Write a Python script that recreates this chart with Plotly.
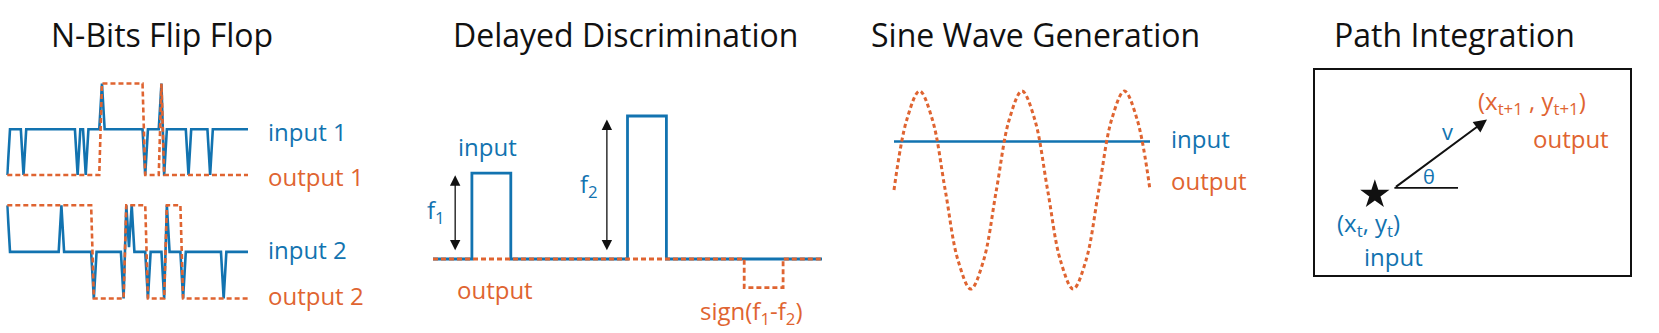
import plotly.graph_objects as go

W, H = 1659, 333
BLUE = "#1273B0"
ORANGE = "#DF6431"
BLACK = "#111111"
FONT = "Open Sans"

# ---------------- data ----------------
# N-Bits Flip Flop (time steps 0..89)
steps = list(range(90))
ff_in1 = [-1, 0, 0, 0, 0, 0, -1, 0, 0, 0,
          0, 0, 0, 0, 0, 0, 0, 0, 0, 0,
          0, 0, 0, 0, 0, 0, -1, 0, 0, -1,
          0, 0, 0, 0, 0, 1, 0, 0, 0, 0,
          0, 0, 0, 0, 0, 0, 0, 0, 0, 0,
          0, -1, 0, 0, 0, 0, 0, 1, -1, 0,
          0, 0, 0, 0, 0, 0, 0, -1, 0, 0,
          0, 0, 0, 0, 0, -1, 0, 0, 0, 0,
          0, 0, 0, 0, 0, 0, 0, 0, 0, 0]
ff_out1 = [-1, -1, -1, -1, -1, -1, -1, -1, -1, -1,
           -1, -1, -1, -1, -1, -1, -1, -1, -1, -1,
           -1, -1, -1, -1, -1, -1, -1, -1, -1, -1,
           -1, -1, -1, -1, -1, 1, 1, 1, 1, 1,
           1, 1, 1, 1, 1, 1, 1, 1, 1, 1,
           1, -1, -1, -1, -1, -1, -1, 1, -1, -1,
           -1, -1, -1, -1, -1, -1, -1, -1, -1, -1,
           -1, -1, -1, -1, -1, -1, -1, -1, -1, -1,
           -1, -1, -1, -1, -1, -1, -1, -1, -1, -1]
ff_in2 = [1, 0, 0, 0, 0, 0, 0, 0, 0, 0,
          0, 0, 0, 0, 0, 0, 0, 0, 0, 0,
          1, 0, 0, 0, 0, 0, 0, 0, 0, 0,
          0, 0, -1, 0, 0, 0, 0, 0, 0, 0,
          0, 0, 0, -1, 1, 0.1, 1, 0, 0, 0,
          0, 0, -1, 0, 0, 0, 0, 0, -1, 1,
          0, 0, 0, 0, 0, -1, 0, 0, 0, 0,
          0, 0, 0, 0, 0, 0, 0, 0, 0, 0,
          -1, 0, 0, 0, 0, 0, 0, 0, 0, 0]
ff_out2 = [1, 1, 1, 1, 1, 1, 1, 1, 1, 1,
           1, 1, 1, 1, 1, 1, 1, 1, 1, 1,
           1, 1, 1, 1, 1, 1, 1, 1, 1, 1,
           1, 1, -1, -1, -1, -1, -1, -1, -1, -1,
           -1, -1, -1, -1, 1, 1, 1, 1, 1, 1,
           1, 1, -1, -1, -1, -1, -1, -1, -1, 1,
           1, 1, 1, 1, 1, -1, -1, -1, -1, -1,
           -1, -1, -1, -1, -1, -1, -1, -1, -1, -1,
           -1, -1, -1, -1, -1, -1, -1, -1, -1, -1]

# Delayed Discrimination
dd_t_in = [0, 10, 10, 20, 20, 50, 50, 60, 60, 100]
dd_in = [0, 0, 0.6, 0.6, 0, 0, 1.0, 1.0, 0, 0]
dd_t_out = [0, 80, 80, 90, 90, 100]
dd_out = [0, 0, -0.2, -0.2, 0, 0]
dd_f1_arrow = [5.7, 0.05, 0.585]   # x, bottom, top
dd_f2_arrow = [44.7, 0.05, 0.975]

# Sine Wave Generation (x in quarter periods)
sw_x = [0, 0.5, 1, 1.5, 2, 2.5, 3, 3.5, 4, 4.5, 5, 5.5, 6, 6.5, 7, 7.5, 8, 8.5, 9, 9.5, 10]
sw_out = [0, 0.71, 1, 0.71, 0, -0.71, -1, -0.71, 0, 0.71, 1, 0.71, 0, -0.71, -1, -0.71, 0,
          0.71, 1, 0.71, 0]
sw_in_x = [0, 10]
sw_in = [0.49, 0.49]

# Path Integration
pi_pos = [1.9, 2.55]
pi_tail = [2.52, 2.76]
pi_head = [5.46, 4.93]
pi_ref_x = [2.52, 4.54]
pi_ref_y = [2.76, 2.76]

# ---------------- helpers ----------------
def xdom(p0, p1, v0, v1, r0, r1):
    k = (p1 - p0) / (v1 - v0)
    return [(p0 + (r0 - v0) * k) / W, (p0 + (r1 - v0) * k) / W]


def ydom(p0, p1, v0, v1, r0, r1):
    k = (p1 - p0) / (v1 - v0)
    a = p0 + (r0 - v0) * k
    b = p0 + (r1 - v0) * k
    return [1 - a / H, 1 - b / H]


def P(xp, yp):
    return xp / W, 1 - yp / H


fig = go.Figure()


def line(x, y, color, xa, ya, dash="solid", width=2.6, shape="linear"):
    fig.add_trace(go.Scatter(x=x, y=y, mode="lines",
                             line=dict(color=color, width=width, dash=dash, shape=shape),
                             xaxis=xa, yaxis=ya, hoverinfo="skip", showlegend=False))


DASH = "5px,3px"
# flip flop
line(steps, ff_in1, BLUE, "x", "y", width=2.6)
line(steps, ff_out1, ORANGE, "x", "y", dash=DASH, width=2.6)
line(steps, ff_in2, BLUE, "x2", "y2", width=2.6)
line(steps, ff_out2, ORANGE, "x2", "y2", dash=DASH, width=2.6)
# delayed discrimination
line(dd_t_in, dd_in, BLUE, "x3", "y3", width=2.8)
line(dd_t_out, dd_out, ORANGE, "x3", "y3", dash=DASH, width=2.8)
# sine
line(sw_in_x, sw_in, BLUE, "x4", "y4", width=2.6)
line(sw_x, sw_out, ORANGE, "x4", "y4", dash="4px,3px", width=3, shape="spline")
# path integration
line(pi_ref_x, pi_ref_y, BLACK, "x5", "y5", width=1.8)
fig.add_trace(go.Scatter(x=[pi_pos[0]], y=[pi_pos[1]], mode="markers",
                         marker=dict(symbol="star", size=22, color=BLACK),
                         xaxis="x5", yaxis="y5", hoverinfo="skip", showlegend=False))

hidden = dict(visible=False, showgrid=False, zeroline=False, fixedrange=True)
ax_box = dict(visible=True, showgrid=False, zeroline=False, showticklabels=False, ticks="",
              showline=True, mirror=True, linecolor=BLACK, linewidth=2)

fig.update_layout(
    width=W, height=H, margin=dict(l=0, r=0, t=0, b=0),
    paper_bgcolor="white", plot_bgcolor="rgba(0,0,0,0)",
    font=dict(family=FONT, color=BLACK),
    xaxis=dict(hidden, domain=xdom(7.3, 248, 0, 89, -0.4, 89.4), range=[-0.4, 89.4], anchor="y"),
    yaxis=dict(hidden, domain=ydom(175, 83.5, -1, 1, -1.15, 1.15), range=[-1.15, 1.15], anchor="x"),
    xaxis2=dict(hidden, domain=xdom(7.3, 248, 0, 89, -0.4, 89.4), range=[-0.4, 89.4], anchor="y2"),
    yaxis2=dict(hidden, domain=ydom(298.5, 205.3, -1, 1, -1.15, 1.15), range=[-1.15, 1.15], anchor="x2"),
    xaxis3=dict(hidden, domain=xdom(433, 822, 0, 100, -1, 101), range=[-1, 101], anchor="y3"),
    yaxis3=dict(hidden, domain=ydom(259, 116, 0, 1, -0.3, 1.08), range=[-0.3, 1.08], anchor="x3"),
    xaxis4=dict(hidden, domain=xdom(894, 1150, 0, 10, -0.3, 10.3), range=[-0.3, 10.3], anchor="y4"),
    yaxis4=dict(hidden, domain=ydom(190, 91, 0, 1, -1.15, 1.15), range=[-1.15, 1.15], anchor="x4"),
    xaxis5=dict(ax_box, domain=xdom(1315, 1630, 0, 10, 0, 10), range=[0, 10], anchor="y5"),
    yaxis5=dict(ax_box, domain=ydom(275, 70, 0, 6.5, 0, 6.5), range=[0, 6.5], anchor="x5"),
)

ann = []


def text(t, xp, yp, color, size=24, xanchor="center"):
    x, y = P(xp, yp)
    ann.append(dict(text=t, x=x, y=y, xref="paper", yref="paper", showarrow=False,
                    xanchor=xanchor, yanchor="middle",
                    font=dict(family=FONT, size=size, color=color)))


# titles
text("N-Bits Flip Flop", 162, 34, BLACK, 32)
text("Delayed Discrimination", 625, 34, BLACK, 32)
text("Sine Wave Generation", 1035, 34, BLACK, 32)
text("Path Integration", 1454, 34, BLACK, 32)

# flip flop labels
text("input 1", 266, 131, BLUE, xanchor="left")
text("output 1", 266, 176, ORANGE, xanchor="left")
text("input 2", 266, 250, BLUE, xanchor="left")
text("output 2", 266, 295, ORANGE, xanchor="left")

# delayed discrimination labels
text("input", 487.5, 147, BLUE)
text("f<sub>1</sub>", 436, 211, BLUE)
text("f<sub>2</sub>", 589, 185, BLUE)
text("output", 495, 289, ORANGE)
text("sign(f<sub>1</sub>-f<sub>2</sub>)", 751, 312, ORANGE)

# sine labels
text("input", 1169, 138, BLUE, xanchor="left")
text("output", 1169, 180, ORANGE, xanchor="left")

# path integration labels
text("(x<sub>t+1</sub> , y<sub>t+1</sub>)", 1532, 102, ORANGE)
text("output", 1571, 138, ORANGE)
text("v", 1447, 131, BLUE, 22)
text("θ", 1429, 176, BLUE, 20)
text("(x<sub>t</sub>, y<sub>t</sub>)", 1368, 224, BLUE)
text("input", 1393, 256, BLUE)

# arrows (data coordinates)
for xa, ya, arr in [("x3", "y3", dd_f1_arrow), ("x3", "y3", dd_f2_arrow)]:
    ann.append(dict(text="", x=arr[0], y=arr[2], ax=arr[0], ay=arr[1],
                    xref=xa, yref=ya, axref=xa, ayref=ya, showarrow=True,
                    arrowhead=2, arrowsize=1.6, arrowwidth=1.3, arrowcolor=BLACK,
                    arrowside="end+start", startarrowhead=2, startarrowsize=1.6))
ann.append(dict(text="", x=pi_head[0], y=pi_head[1], ax=pi_tail[0], ay=pi_tail[1],
                xref="x5", yref="y5", axref="x5", ayref="y5", showarrow=True,
                arrowhead=2, arrowsize=1.3, arrowwidth=2, arrowcolor=BLACK))

fig.update_layout(annotations=ann)
fig.write_html("out.html")
